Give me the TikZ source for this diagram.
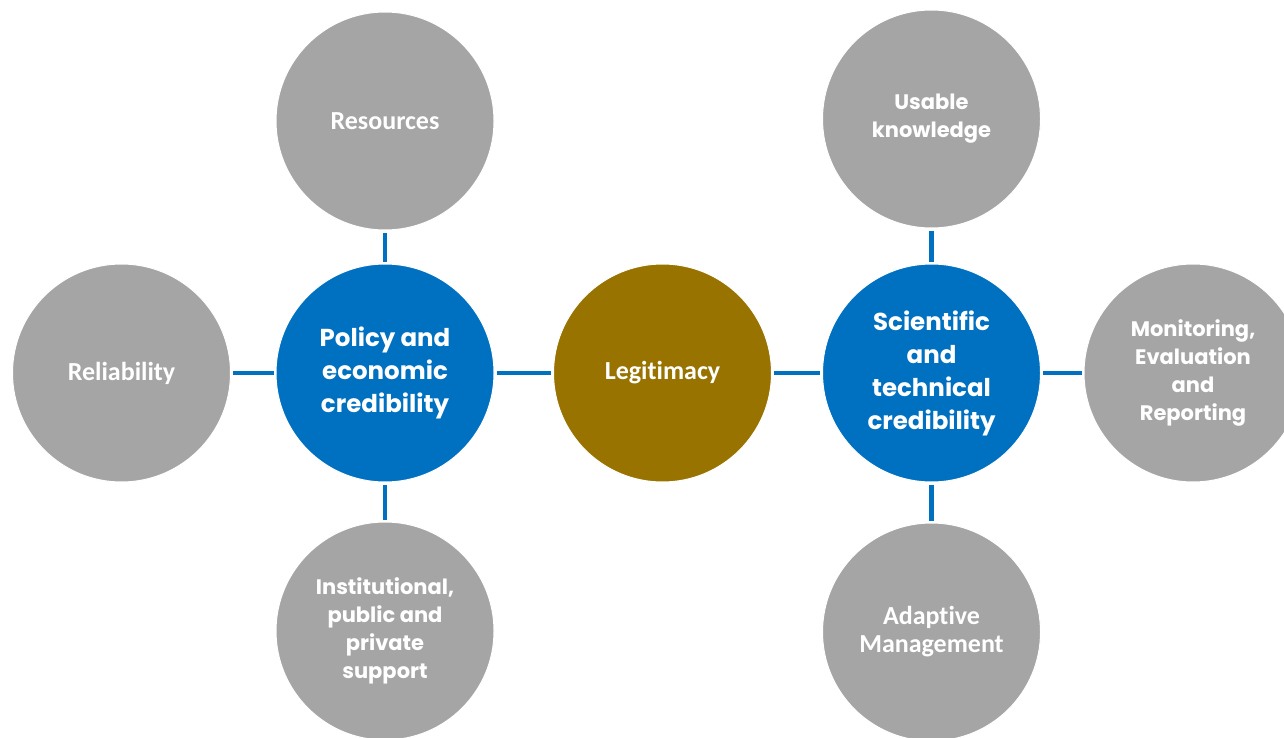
\documentclass[tikz,border=0pt]{standalone}
\usepackage{fontspec}
\newfontfamily\calib{Carlito}[Ligatures={NoCommon}]
\newfontfamily\twc{Poppins}
\definecolor{cblue}{HTML}{0070C0}
\definecolor{cgray}{HTML}{A5A5A5}
\definecolor{cgold}{HTML}{997300}
\tikzset{
  disc/.style={circle, minimum size=218pt, inner sep=0pt, draw=white, line width=1pt, text=white, align=center},
  bluedisc/.style={disc, fill=cblue, font=\twc\bfseries\fontsize{24.5}{33}\selectfont},
  graytw/.style={disc, fill=cgray, font=\twc\bfseries\fontsize{21}{28}\selectfont},
  graycal/.style={disc, fill=cgray, font=\calib\bfseries\fontsize{26}{28}\selectfont},
  golddisc/.style={disc, fill=cgold, font=\calib\bfseries\fontsize{26}{28}\selectfont},
  link/.style={draw=cblue, line width=4.5pt, shorten <=2pt, shorten >=2pt}
}
\begin{document}
\begin{tikzpicture}[x=1pt,y=-1pt]
\useasboundingbox (0,0) rectangle (1284,738);
\node[bluedisc] (pol) at (385,373) {Policy and\\economic\\credibility};
\node[golddisc] (leg) at (662.5,373) {Legitimacy};
\node[bluedisc] (sci) at (931.5,373) {Scientific\\and\\technical\\credibility};
\node[graycal] (res) at (385,121) {Resources};
\node[graycal] (rel) at (121.5,373) {Reliability};
\node[graytw] (ins) at (385,631) {Institutional,\\public and\\private\\support};
\node[graytw] (usa) at (931.5,119) {Usable\\knowledge};
\node[graytw] (mon) at (1193,373) {Monitoring,\\Evaluation\\and\\Reporting};
\node[graycal] (ada) at (931.5,632) {Adaptive\\Management};
\draw[link] (res) -- (pol);
\draw[link] (pol) -- (ins);
\draw[link] (rel) -- (pol);
\draw[link] (pol) -- (leg);
\draw[link] (leg) -- (sci);
\draw[link] (usa) -- (sci);
\draw[link] (sci) -- (ada);
\draw[link] (sci) -- (mon);
\end{tikzpicture}
\end{document}
